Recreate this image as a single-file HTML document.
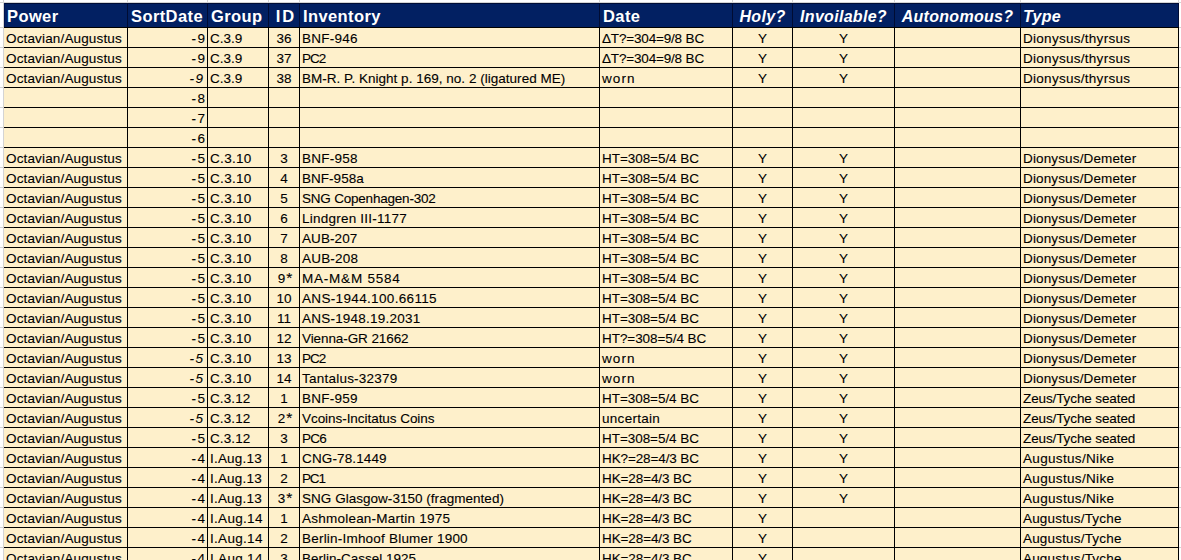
<!DOCTYPE html><html><head><meta charset="utf-8"><title>Coins</title><style>
*{margin:0;padding:0;box-sizing:border-box}
html,body{width:1181px;height:560px;overflow:hidden;background:#fff}
body{position:relative;font-family:"Liberation Sans",sans-serif}
.g{position:absolute;background:#d4d4d4}
.f{position:absolute}
.bk{position:absolute;background:#000}
.t{position:absolute;white-space:nowrap;font-size:13.5px;-webkit-text-stroke:0.1px #000;line-height:19px;height:19px;color:#000;padding-top:1px}
.h{position:absolute;white-space:nowrap;font-size:16.5px;font-weight:bold;line-height:23px;height:23px;color:#fff;letter-spacing:0.4px;padding-top:1px}
.h.hi{font-size:16px;letter-spacing:0.3px}
.h.l{padding-left:3px}
.h.l.hi{padding-left:2px}
.mn{margin-right:1.5px}
.as{font-size:15.5px;margin-left:1px;position:relative;top:-0.5px;line-height:10px}
.t.ast{padding-left:2px}
.t.it{font-style:italic;padding-right:4px}
.hi{font-style:italic}
.l{text-align:left;padding-left:2px}
.r{text-align:right;padding-right:2px}
.c{text-align:center}
</style></head><body>
<div class="g" style="left:0;top:2px;width:1181px;height:1px"></div>
<div class="g" style="left:3px;top:0;width:1px;height:560px"></div>
<div class="g" style="left:127px;top:0;width:1px;height:3px"></div>
<div class="g" style="left:207px;top:0;width:1px;height:3px"></div>
<div class="g" style="left:268px;top:0;width:1px;height:3px"></div>
<div class="g" style="left:299px;top:0;width:1px;height:3px"></div>
<div class="g" style="left:599px;top:0;width:1px;height:3px"></div>
<div class="g" style="left:732px;top:0;width:1px;height:3px"></div>
<div class="g" style="left:792px;top:0;width:1px;height:3px"></div>
<div class="g" style="left:894px;top:0;width:1px;height:3px"></div>
<div class="g" style="left:1020px;top:0;width:1px;height:3px"></div>
<div class="g" style="left:1178px;top:0;width:1px;height:3px"></div>
<div class="g" style="left:0;top:27px;width:3px;height:1px"></div>
<div class="g" style="left:1179px;top:27px;width:2px;height:1px"></div>
<div class="g" style="left:0;top:47px;width:3px;height:1px"></div>
<div class="g" style="left:1179px;top:47px;width:2px;height:1px"></div>
<div class="g" style="left:0;top:67px;width:3px;height:1px"></div>
<div class="g" style="left:1179px;top:67px;width:2px;height:1px"></div>
<div class="g" style="left:0;top:87px;width:3px;height:1px"></div>
<div class="g" style="left:1179px;top:87px;width:2px;height:1px"></div>
<div class="g" style="left:0;top:107px;width:3px;height:1px"></div>
<div class="g" style="left:1179px;top:107px;width:2px;height:1px"></div>
<div class="g" style="left:0;top:127px;width:3px;height:1px"></div>
<div class="g" style="left:1179px;top:127px;width:2px;height:1px"></div>
<div class="g" style="left:0;top:147px;width:3px;height:1px"></div>
<div class="g" style="left:1179px;top:147px;width:2px;height:1px"></div>
<div class="g" style="left:0;top:167px;width:3px;height:1px"></div>
<div class="g" style="left:1179px;top:167px;width:2px;height:1px"></div>
<div class="g" style="left:0;top:187px;width:3px;height:1px"></div>
<div class="g" style="left:1179px;top:187px;width:2px;height:1px"></div>
<div class="g" style="left:0;top:207px;width:3px;height:1px"></div>
<div class="g" style="left:1179px;top:207px;width:2px;height:1px"></div>
<div class="g" style="left:0;top:227px;width:3px;height:1px"></div>
<div class="g" style="left:1179px;top:227px;width:2px;height:1px"></div>
<div class="g" style="left:0;top:247px;width:3px;height:1px"></div>
<div class="g" style="left:1179px;top:247px;width:2px;height:1px"></div>
<div class="g" style="left:0;top:267px;width:3px;height:1px"></div>
<div class="g" style="left:1179px;top:267px;width:2px;height:1px"></div>
<div class="g" style="left:0;top:287px;width:3px;height:1px"></div>
<div class="g" style="left:1179px;top:287px;width:2px;height:1px"></div>
<div class="g" style="left:0;top:307px;width:3px;height:1px"></div>
<div class="g" style="left:1179px;top:307px;width:2px;height:1px"></div>
<div class="g" style="left:0;top:327px;width:3px;height:1px"></div>
<div class="g" style="left:1179px;top:327px;width:2px;height:1px"></div>
<div class="g" style="left:0;top:347px;width:3px;height:1px"></div>
<div class="g" style="left:1179px;top:347px;width:2px;height:1px"></div>
<div class="g" style="left:0;top:367px;width:3px;height:1px"></div>
<div class="g" style="left:1179px;top:367px;width:2px;height:1px"></div>
<div class="g" style="left:0;top:387px;width:3px;height:1px"></div>
<div class="g" style="left:1179px;top:387px;width:2px;height:1px"></div>
<div class="g" style="left:0;top:407px;width:3px;height:1px"></div>
<div class="g" style="left:1179px;top:407px;width:2px;height:1px"></div>
<div class="g" style="left:0;top:427px;width:3px;height:1px"></div>
<div class="g" style="left:1179px;top:427px;width:2px;height:1px"></div>
<div class="g" style="left:0;top:447px;width:3px;height:1px"></div>
<div class="g" style="left:1179px;top:447px;width:2px;height:1px"></div>
<div class="g" style="left:0;top:467px;width:3px;height:1px"></div>
<div class="g" style="left:1179px;top:467px;width:2px;height:1px"></div>
<div class="g" style="left:0;top:487px;width:3px;height:1px"></div>
<div class="g" style="left:1179px;top:487px;width:2px;height:1px"></div>
<div class="g" style="left:0;top:507px;width:3px;height:1px"></div>
<div class="g" style="left:1179px;top:507px;width:2px;height:1px"></div>
<div class="g" style="left:0;top:527px;width:3px;height:1px"></div>
<div class="g" style="left:1179px;top:527px;width:2px;height:1px"></div>
<div class="g" style="left:0;top:547px;width:3px;height:1px"></div>
<div class="g" style="left:1179px;top:547px;width:2px;height:1px"></div>
<div class="g" style="left:0;top:567px;width:3px;height:1px"></div>
<div class="g" style="left:1179px;top:567px;width:2px;height:1px"></div>
<div class="f" style="left:4px;top:3px;width:1175px;height:24px;background:#022062"></div>
<div class="f" style="left:4px;top:3px;width:1175px;height:1px;background:#000d35"></div>
<div class="f" style="left:4px;top:3px;width:1px;height:24px;background:#001450"></div>
<div class="f" style="left:4px;top:28px;width:1175px;height:532px;background:#fef0cb"></div>
<div class="bk" style="left:4px;top:27px;width:1175px;height:1px"></div>
<div class="bk" style="left:4px;top:47px;width:1175px;height:1px"></div>
<div class="bk" style="left:4px;top:67px;width:1175px;height:1px"></div>
<div class="bk" style="left:4px;top:87px;width:1175px;height:1px"></div>
<div class="bk" style="left:4px;top:107px;width:1175px;height:1px"></div>
<div class="bk" style="left:4px;top:127px;width:1175px;height:1px"></div>
<div class="bk" style="left:4px;top:147px;width:1175px;height:1px"></div>
<div class="bk" style="left:4px;top:167px;width:1175px;height:1px"></div>
<div class="bk" style="left:4px;top:187px;width:1175px;height:1px"></div>
<div class="bk" style="left:4px;top:207px;width:1175px;height:1px"></div>
<div class="bk" style="left:4px;top:227px;width:1175px;height:1px"></div>
<div class="bk" style="left:4px;top:247px;width:1175px;height:1px"></div>
<div class="bk" style="left:4px;top:267px;width:1175px;height:1px"></div>
<div class="bk" style="left:4px;top:287px;width:1175px;height:1px"></div>
<div class="bk" style="left:4px;top:307px;width:1175px;height:1px"></div>
<div class="bk" style="left:4px;top:327px;width:1175px;height:1px"></div>
<div class="bk" style="left:4px;top:347px;width:1175px;height:1px"></div>
<div class="bk" style="left:4px;top:367px;width:1175px;height:1px"></div>
<div class="bk" style="left:4px;top:387px;width:1175px;height:1px"></div>
<div class="bk" style="left:4px;top:407px;width:1175px;height:1px"></div>
<div class="bk" style="left:4px;top:427px;width:1175px;height:1px"></div>
<div class="bk" style="left:4px;top:447px;width:1175px;height:1px"></div>
<div class="bk" style="left:4px;top:467px;width:1175px;height:1px"></div>
<div class="bk" style="left:4px;top:487px;width:1175px;height:1px"></div>
<div class="bk" style="left:4px;top:507px;width:1175px;height:1px"></div>
<div class="bk" style="left:4px;top:527px;width:1175px;height:1px"></div>
<div class="bk" style="left:4px;top:547px;width:1175px;height:1px"></div>
<div class="bk" style="left:4px;top:567px;width:1175px;height:1px"></div>
<div class="bk" style="left:127px;top:28px;width:1px;height:532px"></div>
<div class="bk" style="left:127px;top:3px;width:1px;height:24px;background:#000c33"></div>
<div class="bk" style="left:207px;top:28px;width:1px;height:532px"></div>
<div class="bk" style="left:207px;top:3px;width:1px;height:24px;background:#000c33"></div>
<div class="bk" style="left:268px;top:28px;width:1px;height:532px"></div>
<div class="bk" style="left:268px;top:3px;width:1px;height:24px;background:#000c33"></div>
<div class="bk" style="left:299px;top:28px;width:1px;height:532px"></div>
<div class="bk" style="left:299px;top:3px;width:1px;height:24px;background:#000c33"></div>
<div class="bk" style="left:599px;top:28px;width:1px;height:532px"></div>
<div class="bk" style="left:599px;top:3px;width:1px;height:24px;background:#000c33"></div>
<div class="bk" style="left:732px;top:28px;width:1px;height:532px"></div>
<div class="bk" style="left:732px;top:3px;width:1px;height:24px;background:#000c33"></div>
<div class="bk" style="left:792px;top:28px;width:1px;height:532px"></div>
<div class="bk" style="left:792px;top:3px;width:1px;height:24px;background:#000c33"></div>
<div class="bk" style="left:894px;top:28px;width:1px;height:532px"></div>
<div class="bk" style="left:894px;top:3px;width:1px;height:24px;background:#000c33"></div>
<div class="bk" style="left:1020px;top:28px;width:1px;height:532px"></div>
<div class="bk" style="left:1020px;top:3px;width:1px;height:24px;background:#000c33"></div>
<div class="bk" style="left:1178px;top:28px;width:1px;height:532px"></div>
<div class="bk" style="left:1178px;top:3px;width:1px;height:24px;background:#000c33"></div>
<div class="h l" style="left:4px;top:4px;width:123px">Power</div>
<div class="h l" style="left:128px;top:4px;width:79px">SortDate</div>
<div class="h l" style="left:208px;top:4px;width:60px">Group</div>
<div class="h c" style="left:269px;top:4px;width:30px;letter-spacing:1.9px;padding-left:4px">ID</div>
<div class="h l" style="left:300px;top:4px;width:299px">Inventory</div>
<div class="h l" style="left:600px;top:4px;width:132px">Date</div>
<div class="h c hi" style="left:733px;top:4px;width:59px">Holy?</div>
<div class="h c hi" style="left:793px;top:4px;width:101px">Invoilable?</div>
<div class="h c hi" style="left:895px;top:4px;width:125px">Autonomous?</div>
<div class="h l hi" style="left:1021px;top:4px;width:157px">Type</div>
<div class="t l" style="left:4px;top:28px;width:123px;letter-spacing:0.15px">Octavian/Augustus</div>
<div class="t r" style="left:128px;top:28px;width:79px"><span class="mn">-</span>9</div>
<div class="t l" style="left:208px;top:28px;width:60px;letter-spacing:-0.03px">C.3.9</div>
<div class="t c" style="left:269px;top:28px;width:30px">36</div>
<div class="t l" style="left:300px;top:28px;width:299px;letter-spacing:0.23px">BNF-946</div>
<div class="t l" style="left:600px;top:28px;width:132px;letter-spacing:-0.17px">ΔT?=304=9/8 BC</div>
<div class="t c" style="left:733px;top:28px;width:59px">Y</div>
<div class="t c" style="left:793px;top:28px;width:101px">Y</div>
<div class="t l" style="left:1021px;top:28px;width:157px;letter-spacing:0.28px">Dionysus/thyrsus</div>
<div class="t l" style="left:4px;top:48px;width:123px;letter-spacing:0.15px">Octavian/Augustus</div>
<div class="t r" style="left:128px;top:48px;width:79px"><span class="mn">-</span>9</div>
<div class="t l" style="left:208px;top:48px;width:60px;letter-spacing:-0.03px">C.3.9</div>
<div class="t c" style="left:269px;top:48px;width:30px">37</div>
<div class="t l" style="left:300px;top:48px;width:299px;letter-spacing:-1.05px">PC2</div>
<div class="t l" style="left:600px;top:48px;width:132px;letter-spacing:-0.17px">ΔT?=304=9/8 BC</div>
<div class="t c" style="left:733px;top:48px;width:59px">Y</div>
<div class="t c" style="left:793px;top:48px;width:101px">Y</div>
<div class="t l" style="left:1021px;top:48px;width:157px;letter-spacing:0.28px">Dionysus/thyrsus</div>
<div class="t l" style="left:4px;top:68px;width:123px;letter-spacing:0.15px">Octavian/Augustus</div>
<div class="t r it" style="left:128px;top:68px;width:79px"><span class="mn">-</span>9</div>
<div class="t l" style="left:208px;top:68px;width:60px;letter-spacing:-0.03px">C.3.9</div>
<div class="t c" style="left:269px;top:68px;width:30px">38</div>
<div class="t l" style="left:300px;top:68px;width:299px;letter-spacing:0.02px">BM-R. P. Knight p. 169, no. 2 (ligatured ME)</div>
<div class="t l" style="left:600px;top:68px;width:132px;letter-spacing:1.10px">worn</div>
<div class="t c" style="left:733px;top:68px;width:59px">Y</div>
<div class="t c" style="left:793px;top:68px;width:101px">Y</div>
<div class="t l" style="left:1021px;top:68px;width:157px;letter-spacing:0.28px">Dionysus/thyrsus</div>
<div class="t r" style="left:128px;top:88px;width:79px"><span class="mn">-</span>8</div>
<div class="t r" style="left:128px;top:108px;width:79px"><span class="mn">-</span>7</div>
<div class="t r" style="left:128px;top:128px;width:79px"><span class="mn">-</span>6</div>
<div class="t l" style="left:4px;top:148px;width:123px;letter-spacing:0.15px">Octavian/Augustus</div>
<div class="t r" style="left:128px;top:148px;width:79px"><span class="mn">-</span>5</div>
<div class="t l" style="left:208px;top:148px;width:60px;letter-spacing:0.32px">C.3.10</div>
<div class="t c" style="left:269px;top:148px;width:30px">3</div>
<div class="t l" style="left:300px;top:148px;width:299px;letter-spacing:0.23px">BNF-958</div>
<div class="t l" style="left:600px;top:148px;width:132px;letter-spacing:-0.05px">HT=308=5/4 BC</div>
<div class="t c" style="left:733px;top:148px;width:59px">Y</div>
<div class="t c" style="left:793px;top:148px;width:101px">Y</div>
<div class="t l" style="left:1021px;top:148px;width:157px;letter-spacing:0.14px">Dionysus/Demeter</div>
<div class="t l" style="left:4px;top:168px;width:123px;letter-spacing:0.15px">Octavian/Augustus</div>
<div class="t r" style="left:128px;top:168px;width:79px"><span class="mn">-</span>5</div>
<div class="t l" style="left:208px;top:168px;width:60px;letter-spacing:0.32px">C.3.10</div>
<div class="t c" style="left:269px;top:168px;width:30px">4</div>
<div class="t l" style="left:300px;top:168px;width:299px;letter-spacing:0.03px">BNF-958a</div>
<div class="t l" style="left:600px;top:168px;width:132px;letter-spacing:-0.05px">HT=308=5/4 BC</div>
<div class="t c" style="left:733px;top:168px;width:59px">Y</div>
<div class="t c" style="left:793px;top:168px;width:101px">Y</div>
<div class="t l" style="left:1021px;top:168px;width:157px;letter-spacing:0.14px">Dionysus/Demeter</div>
<div class="t l" style="left:4px;top:188px;width:123px;letter-spacing:0.15px">Octavian/Augustus</div>
<div class="t r" style="left:128px;top:188px;width:79px"><span class="mn">-</span>5</div>
<div class="t l" style="left:208px;top:188px;width:60px;letter-spacing:0.32px">C.3.10</div>
<div class="t c" style="left:269px;top:188px;width:30px">5</div>
<div class="t l" style="left:300px;top:188px;width:299px;letter-spacing:-0.21px">SNG Copenhagen-302</div>
<div class="t l" style="left:600px;top:188px;width:132px;letter-spacing:-0.05px">HT=308=5/4 BC</div>
<div class="t c" style="left:733px;top:188px;width:59px">Y</div>
<div class="t c" style="left:793px;top:188px;width:101px">Y</div>
<div class="t l" style="left:1021px;top:188px;width:157px;letter-spacing:0.14px">Dionysus/Demeter</div>
<div class="t l" style="left:4px;top:208px;width:123px;letter-spacing:0.15px">Octavian/Augustus</div>
<div class="t r" style="left:128px;top:208px;width:79px"><span class="mn">-</span>5</div>
<div class="t l" style="left:208px;top:208px;width:60px;letter-spacing:0.32px">C.3.10</div>
<div class="t c" style="left:269px;top:208px;width:30px">6</div>
<div class="t l" style="left:300px;top:208px;width:299px;letter-spacing:0.23px">Lindgren III-1177</div>
<div class="t l" style="left:600px;top:208px;width:132px;letter-spacing:-0.05px">HT=308=5/4 BC</div>
<div class="t c" style="left:733px;top:208px;width:59px">Y</div>
<div class="t c" style="left:793px;top:208px;width:101px">Y</div>
<div class="t l" style="left:1021px;top:208px;width:157px;letter-spacing:0.14px">Dionysus/Demeter</div>
<div class="t l" style="left:4px;top:228px;width:123px;letter-spacing:0.15px">Octavian/Augustus</div>
<div class="t r" style="left:128px;top:228px;width:79px"><span class="mn">-</span>5</div>
<div class="t l" style="left:208px;top:228px;width:60px;letter-spacing:0.32px">C.3.10</div>
<div class="t c" style="left:269px;top:228px;width:30px">7</div>
<div class="t l" style="left:300px;top:228px;width:299px;letter-spacing:0.08px">AUB-207</div>
<div class="t l" style="left:600px;top:228px;width:132px;letter-spacing:-0.05px">HT=308=5/4 BC</div>
<div class="t c" style="left:733px;top:228px;width:59px">Y</div>
<div class="t c" style="left:793px;top:228px;width:101px">Y</div>
<div class="t l" style="left:1021px;top:228px;width:157px;letter-spacing:0.14px">Dionysus/Demeter</div>
<div class="t l" style="left:4px;top:248px;width:123px;letter-spacing:0.15px">Octavian/Augustus</div>
<div class="t r" style="left:128px;top:248px;width:79px"><span class="mn">-</span>5</div>
<div class="t l" style="left:208px;top:248px;width:60px;letter-spacing:0.32px">C.3.10</div>
<div class="t c" style="left:269px;top:248px;width:30px">8</div>
<div class="t l" style="left:300px;top:248px;width:299px;letter-spacing:0.20px">AUB-208</div>
<div class="t l" style="left:600px;top:248px;width:132px;letter-spacing:-0.05px">HT=308=5/4 BC</div>
<div class="t c" style="left:733px;top:248px;width:59px">Y</div>
<div class="t c" style="left:793px;top:248px;width:101px">Y</div>
<div class="t l" style="left:1021px;top:248px;width:157px;letter-spacing:0.14px">Dionysus/Demeter</div>
<div class="t l" style="left:4px;top:268px;width:123px;letter-spacing:0.15px">Octavian/Augustus</div>
<div class="t r" style="left:128px;top:268px;width:79px"><span class="mn">-</span>5</div>
<div class="t l" style="left:208px;top:268px;width:60px;letter-spacing:0.32px">C.3.10</div>
<div class="t c ast" style="left:269px;top:268px;width:30px">9<span class="as">*</span></div>
<div class="t l" style="left:300px;top:268px;width:299px;letter-spacing:0.78px">MA-M&amp;M 5584</div>
<div class="t l" style="left:600px;top:268px;width:132px;letter-spacing:-0.05px">HT=308=5/4 BC</div>
<div class="t c" style="left:733px;top:268px;width:59px">Y</div>
<div class="t c" style="left:793px;top:268px;width:101px">Y</div>
<div class="t l" style="left:1021px;top:268px;width:157px;letter-spacing:0.14px">Dionysus/Demeter</div>
<div class="t l" style="left:4px;top:288px;width:123px;letter-spacing:0.15px">Octavian/Augustus</div>
<div class="t r" style="left:128px;top:288px;width:79px"><span class="mn">-</span>5</div>
<div class="t l" style="left:208px;top:288px;width:60px;letter-spacing:0.32px">C.3.10</div>
<div class="t c" style="left:269px;top:288px;width:30px">10</div>
<div class="t l" style="left:300px;top:288px;width:299px;letter-spacing:0.34px">ANS-1944.100.66115</div>
<div class="t l" style="left:600px;top:288px;width:132px;letter-spacing:-0.05px">HT=308=5/4 BC</div>
<div class="t c" style="left:733px;top:288px;width:59px">Y</div>
<div class="t c" style="left:793px;top:288px;width:101px">Y</div>
<div class="t l" style="left:1021px;top:288px;width:157px;letter-spacing:0.14px">Dionysus/Demeter</div>
<div class="t l" style="left:4px;top:308px;width:123px;letter-spacing:0.15px">Octavian/Augustus</div>
<div class="t r" style="left:128px;top:308px;width:79px"><span class="mn">-</span>5</div>
<div class="t l" style="left:208px;top:308px;width:60px;letter-spacing:0.32px">C.3.10</div>
<div class="t c" style="left:269px;top:308px;width:30px">11</div>
<div class="t l" style="left:300px;top:308px;width:299px;letter-spacing:0.22px">ANS-1948.19.2031</div>
<div class="t l" style="left:600px;top:308px;width:132px;letter-spacing:-0.05px">HT=308=5/4 BC</div>
<div class="t c" style="left:733px;top:308px;width:59px">Y</div>
<div class="t c" style="left:793px;top:308px;width:101px">Y</div>
<div class="t l" style="left:1021px;top:308px;width:157px;letter-spacing:0.14px">Dionysus/Demeter</div>
<div class="t l" style="left:4px;top:328px;width:123px;letter-spacing:0.15px">Octavian/Augustus</div>
<div class="t r" style="left:128px;top:328px;width:79px"><span class="mn">-</span>5</div>
<div class="t l" style="left:208px;top:328px;width:60px;letter-spacing:0.32px">C.3.10</div>
<div class="t c" style="left:269px;top:328px;width:30px">12</div>
<div class="t l" style="left:300px;top:328px;width:299px;letter-spacing:-0.09px">Vienna-GR 21662</div>
<div class="t l" style="left:600px;top:328px;width:132px;letter-spacing:-0.06px">HT?=308=5/4 BC</div>
<div class="t c" style="left:733px;top:328px;width:59px">Y</div>
<div class="t c" style="left:793px;top:328px;width:101px">Y</div>
<div class="t l" style="left:1021px;top:328px;width:157px;letter-spacing:0.14px">Dionysus/Demeter</div>
<div class="t l" style="left:4px;top:348px;width:123px;letter-spacing:0.15px">Octavian/Augustus</div>
<div class="t r it" style="left:128px;top:348px;width:79px"><span class="mn">-</span>5</div>
<div class="t l" style="left:208px;top:348px;width:60px;letter-spacing:0.32px">C.3.10</div>
<div class="t c" style="left:269px;top:348px;width:30px">13</div>
<div class="t l" style="left:300px;top:348px;width:299px;letter-spacing:-1.05px">PC2</div>
<div class="t l" style="left:600px;top:348px;width:132px;letter-spacing:1.10px">worn</div>
<div class="t c" style="left:733px;top:348px;width:59px">Y</div>
<div class="t c" style="left:793px;top:348px;width:101px">Y</div>
<div class="t l" style="left:1021px;top:348px;width:157px;letter-spacing:0.14px">Dionysus/Demeter</div>
<div class="t l" style="left:4px;top:368px;width:123px;letter-spacing:0.15px">Octavian/Augustus</div>
<div class="t r it" style="left:128px;top:368px;width:79px"><span class="mn">-</span>5</div>
<div class="t l" style="left:208px;top:368px;width:60px;letter-spacing:0.32px">C.3.10</div>
<div class="t c" style="left:269px;top:368px;width:30px">14</div>
<div class="t l" style="left:300px;top:368px;width:299px;letter-spacing:0.23px">Tantalus-32379</div>
<div class="t l" style="left:600px;top:368px;width:132px;letter-spacing:1.10px">worn</div>
<div class="t c" style="left:733px;top:368px;width:59px">Y</div>
<div class="t c" style="left:793px;top:368px;width:101px">Y</div>
<div class="t l" style="left:1021px;top:368px;width:157px;letter-spacing:0.14px">Dionysus/Demeter</div>
<div class="t l" style="left:4px;top:388px;width:123px;letter-spacing:0.15px">Octavian/Augustus</div>
<div class="t r" style="left:128px;top:388px;width:79px"><span class="mn">-</span>5</div>
<div class="t l" style="left:208px;top:388px;width:60px;letter-spacing:0.12px">C.3.12</div>
<div class="t c" style="left:269px;top:388px;width:30px">1</div>
<div class="t l" style="left:300px;top:388px;width:299px;letter-spacing:0.23px">BNF-959</div>
<div class="t l" style="left:600px;top:388px;width:132px;letter-spacing:-0.05px">HT=308=5/4 BC</div>
<div class="t c" style="left:733px;top:388px;width:59px">Y</div>
<div class="t c" style="left:793px;top:388px;width:101px">Y</div>
<div class="t l" style="left:1021px;top:388px;width:157px;letter-spacing:-0.11px">Zeus/Tyche seated</div>
<div class="t l" style="left:4px;top:408px;width:123px;letter-spacing:0.15px">Octavian/Augustus</div>
<div class="t r it" style="left:128px;top:408px;width:79px"><span class="mn">-</span>5</div>
<div class="t l" style="left:208px;top:408px;width:60px;letter-spacing:0.12px">C.3.12</div>
<div class="t c ast" style="left:269px;top:408px;width:30px">2<span class="as">*</span></div>
<div class="t l" style="left:300px;top:408px;width:299px;letter-spacing:-0.05px">Vcoins-Incitatus Coins</div>
<div class="t l" style="left:600px;top:408px;width:132px;letter-spacing:0.29px">uncertain</div>
<div class="t c" style="left:733px;top:408px;width:59px">Y</div>
<div class="t c" style="left:793px;top:408px;width:101px">Y</div>
<div class="t l" style="left:1021px;top:408px;width:157px;letter-spacing:-0.11px">Zeus/Tyche seated</div>
<div class="t l" style="left:4px;top:428px;width:123px;letter-spacing:0.15px">Octavian/Augustus</div>
<div class="t r" style="left:128px;top:428px;width:79px"><span class="mn">-</span>5</div>
<div class="t l" style="left:208px;top:428px;width:60px;letter-spacing:0.12px">C.3.12</div>
<div class="t c" style="left:269px;top:428px;width:30px">3</div>
<div class="t l" style="left:300px;top:428px;width:299px;letter-spacing:-0.70px">PC6</div>
<div class="t l" style="left:600px;top:428px;width:132px;letter-spacing:-0.05px">HT=308=5/4 BC</div>
<div class="t c" style="left:733px;top:428px;width:59px">Y</div>
<div class="t c" style="left:793px;top:428px;width:101px">Y</div>
<div class="t l" style="left:1021px;top:428px;width:157px;letter-spacing:-0.11px">Zeus/Tyche seated</div>
<div class="t l" style="left:4px;top:448px;width:123px;letter-spacing:0.15px">Octavian/Augustus</div>
<div class="t r" style="left:128px;top:448px;width:79px"><span class="mn">-</span>4</div>
<div class="t l" style="left:208px;top:448px;width:60px;letter-spacing:0.20px">I.Aug.13</div>
<div class="t c" style="left:269px;top:448px;width:30px">1</div>
<div class="t l" style="left:300px;top:448px;width:299px;letter-spacing:0.13px">CNG-78.1449</div>
<div class="t l" style="left:600px;top:448px;width:132px;letter-spacing:-0.11px">HK?=28=4/3 BC</div>
<div class="t c" style="left:733px;top:448px;width:59px">Y</div>
<div class="t c" style="left:793px;top:448px;width:101px">Y</div>
<div class="t l" style="left:1021px;top:448px;width:157px;letter-spacing:0.33px">Augustus/Nike</div>
<div class="t l" style="left:4px;top:468px;width:123px;letter-spacing:0.15px">Octavian/Augustus</div>
<div class="t r" style="left:128px;top:468px;width:79px"><span class="mn">-</span>4</div>
<div class="t l" style="left:208px;top:468px;width:60px;letter-spacing:0.20px">I.Aug.13</div>
<div class="t c" style="left:269px;top:468px;width:30px">2</div>
<div class="t l" style="left:300px;top:468px;width:299px;letter-spacing:-1.15px">PC1</div>
<div class="t l" style="left:600px;top:468px;width:132px;letter-spacing:-0.10px">HK=28=4/3 BC</div>
<div class="t c" style="left:733px;top:468px;width:59px">Y</div>
<div class="t c" style="left:793px;top:468px;width:101px">Y</div>
<div class="t l" style="left:1021px;top:468px;width:157px;letter-spacing:0.33px">Augustus/Nike</div>
<div class="t l" style="left:4px;top:488px;width:123px;letter-spacing:0.15px">Octavian/Augustus</div>
<div class="t r" style="left:128px;top:488px;width:79px"><span class="mn">-</span>4</div>
<div class="t l" style="left:208px;top:488px;width:60px;letter-spacing:0.20px">I.Aug.13</div>
<div class="t c ast" style="left:269px;top:488px;width:30px">3<span class="as">*</span></div>
<div class="t l" style="left:300px;top:488px;width:299px;letter-spacing:0.03px">SNG Glasgow-3150 (fragmented)</div>
<div class="t l" style="left:600px;top:488px;width:132px;letter-spacing:-0.10px">HK=28=4/3 BC</div>
<div class="t c" style="left:733px;top:488px;width:59px">Y</div>
<div class="t c" style="left:793px;top:488px;width:101px">Y</div>
<div class="t l" style="left:1021px;top:488px;width:157px;letter-spacing:0.33px">Augustus/Nike</div>
<div class="t l" style="left:4px;top:508px;width:123px;letter-spacing:0.15px">Octavian/Augustus</div>
<div class="t r" style="left:128px;top:508px;width:79px"><span class="mn">-</span>4</div>
<div class="t l" style="left:208px;top:508px;width:60px;letter-spacing:0.30px">I.Aug.14</div>
<div class="t c" style="left:269px;top:508px;width:30px">1</div>
<div class="t l" style="left:300px;top:508px;width:299px;letter-spacing:0.23px">Ashmolean-Martin 1975</div>
<div class="t l" style="left:600px;top:508px;width:132px;letter-spacing:-0.10px">HK=28=4/3 BC</div>
<div class="t c" style="left:733px;top:508px;width:59px">Y</div>
<div class="t l" style="left:1021px;top:508px;width:157px;letter-spacing:0.18px">Augustus/Tyche</div>
<div class="t l" style="left:4px;top:528px;width:123px;letter-spacing:0.15px">Octavian/Augustus</div>
<div class="t r" style="left:128px;top:528px;width:79px"><span class="mn">-</span>4</div>
<div class="t l" style="left:208px;top:528px;width:60px;letter-spacing:0.30px">I.Aug.14</div>
<div class="t c" style="left:269px;top:528px;width:30px">2</div>
<div class="t l" style="left:300px;top:528px;width:299px;letter-spacing:0.21px">Berlin-Imhoof Blumer 1900</div>
<div class="t l" style="left:600px;top:528px;width:132px;letter-spacing:-0.10px">HK=28=4/3 BC</div>
<div class="t c" style="left:733px;top:528px;width:59px">Y</div>
<div class="t l" style="left:1021px;top:528px;width:157px;letter-spacing:0.18px">Augustus/Tyche</div>
<div class="t l" style="left:4px;top:548px;width:123px;letter-spacing:0.15px">Octavian/Augustus</div>
<div class="t r" style="left:128px;top:548px;width:79px"><span class="mn">-</span>4</div>
<div class="t l" style="left:208px;top:548px;width:60px;letter-spacing:0.30px">I.Aug.14</div>
<div class="t c" style="left:269px;top:548px;width:30px">3</div>
<div class="t l" style="left:300px;top:548px;width:299px">Berlin-Cassel 1925</div>
<div class="t l" style="left:600px;top:548px;width:132px;letter-spacing:-0.10px">HK=28=4/3 BC</div>
<div class="t c" style="left:733px;top:548px;width:59px">Y</div>
<div class="t l" style="left:1021px;top:548px;width:157px;letter-spacing:0.18px">Augustus/Tyche</div>
</body></html>
